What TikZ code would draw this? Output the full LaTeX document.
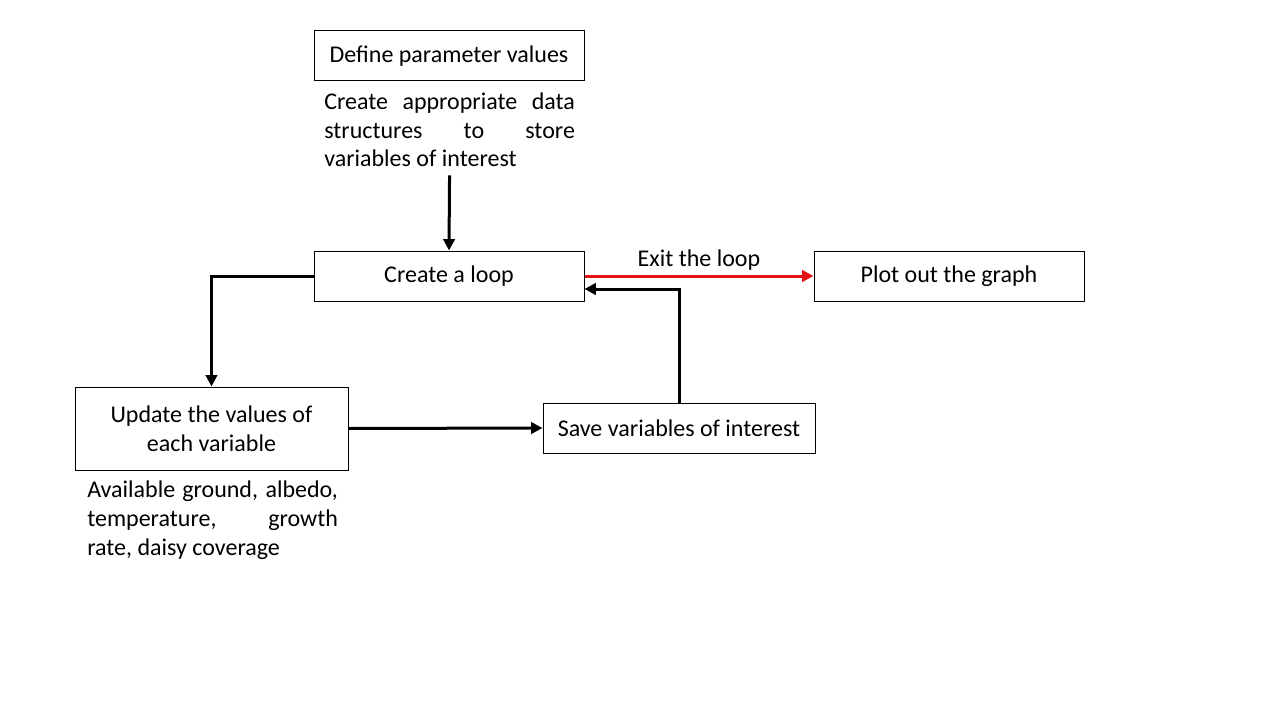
\documentclass[tikz,border=0pt]{standalone}
\usepackage{fontspec}
\setmainfont{Carlito}
\usepackage{xcolor}
\usetikzlibrary{positioning,arrows.meta}

\definecolor{exitred}{RGB}{228,20,20}

\begin{document}
\begin{tikzpicture}[
    x=0.75pt, y=-0.75pt,
    font=\fontsize{18}{21.4}\selectfont,
    stepbox/.style={draw=black, line width=0.75pt, minimum width=202.5pt, minimum height=37.5pt, inner sep=2pt, align=center},
    notetext/.style={text width=188pt, align=justify, inner sep=0pt, anchor=north west},
    arrow/.style={-{Triangle[length=8.5pt, width=8.5pt]}, line width=2.25pt}
]
    \useasboundingbox (0,0) rectangle (1280,720);

    \node[stepbox] (define) at (449,56) {Define parameter values};
    \node[notetext] (defnote) at (324,93) {Create appropriate data\linebreak structures to store\linebreak variables of interest};
    \node[stepbox] (loop) at (449,276) {Create a loop};
    \node[stepbox] (plot) at (949,276) {Plot out the graph};
    \node[stepbox, minimum width=204.75pt, minimum height=62.25pt] (update) at (211.5,428.5) {Update the values of\\each variable};
    \node[notetext] (updnote) at (87,481) {Available ground, albedo,\linebreak temperature, growth\linebreak rate, daisy coverage};
    \node[stepbox, minimum width=204pt] (save) at (679,428) {Save variables of interest};

    \draw[arrow, shorten <=6pt] (defnote.south) -- (loop.north);
    \draw[arrow] (loop.west) -| (update.north);
    \draw[arrow, exitred] (loop.east) -- node[above, text=black] {Exit the loop} (plot.west);
    \draw[arrow] (update.east) -- (save.west);
    \draw[arrow] (save.north) |- ([yshift=-9.75pt]loop.east);

\end{tikzpicture}
\end{document}
